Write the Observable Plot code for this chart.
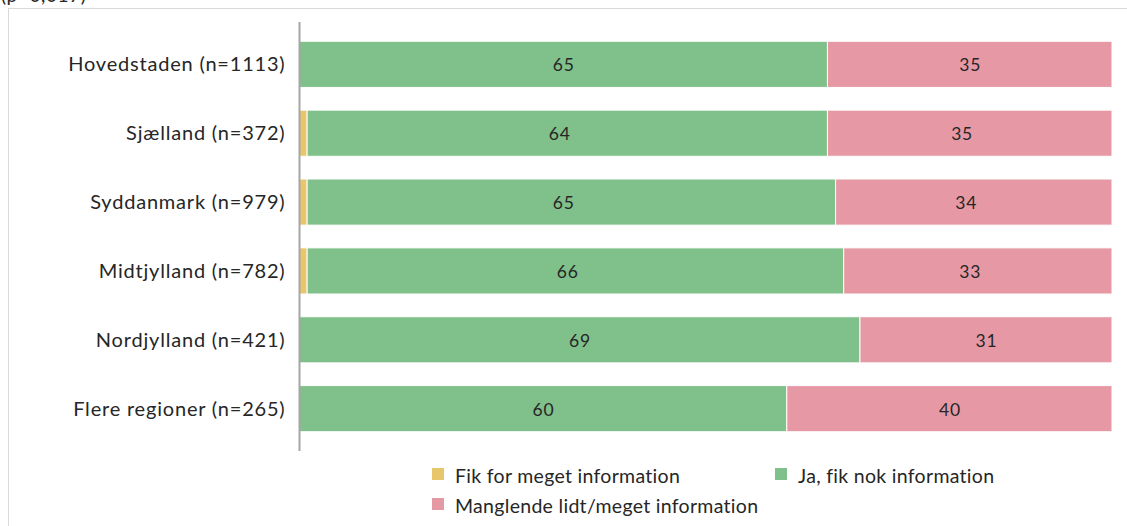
<!DOCTYPE html>
<html>
<head>
<meta charset="utf-8">
<script src="https://cdn.jsdelivr.net/npm/d3@7"></script>
<script src="https://cdn.jsdelivr.net/npm/@observablehq/plot@0.6"></script>
<style>
  html, body { margin: 0; padding: 0; background: #fff; overflow: hidden; }
  #wrap { position: relative; width: 1127px; height: 526px; font-family: Lato, "Open Sans", sans-serif; color: #262626; }
  #title { position: absolute; left: 1px; top: -15px; font-size: 19px; line-height: 19px; white-space: nowrap; letter-spacing: 0.6px; }
  #frame { position: absolute; left: 8px; top: 8px; width: 1130px; height: 530px; border: 1px solid #d9d9d9; box-sizing: border-box; }
  #chart { position: absolute; left: 0; top: 0; }
  #legend { position: absolute; left: 432px; top: 465px; font-size: 19.5px; letter-spacing: 0.3px; }
  .item { position: absolute; white-space: nowrap; line-height: 22px; }
  .sw { position: absolute; width: 12px; height: 12px; left: 0; top: 3px; }
  .lab { position: absolute; left: 23px; top: 0; }
</style>
</head>
<body>
<div id="wrap">
  <div id="title">(p=0,017)</div>
  <div id="frame"></div>
  <div id="chart"></div>
  <div id="legend"></div>
</div>
<script>
const regions = ["Hovedstaden (n=1113)", "Sjælland (n=372)", "Syddanmark (n=979)", "Midtjylland (n=782)", "Nordjylland (n=421)", "Flere regioner (n=265)"];
const categories = ["Fik for meget information", "Ja, fik nok information", "Manglende lidt/meget information"];
const fikForMeget = [0, 1, 1, 1, 0, 0];
const jaNok = [65, 64, 65, 66, 69, 60];
const manglende = [35, 35, 34, 33, 31, 40];
const colors = ["#e8c66c", "#80c08a", "#e699a5"];

const series = [fikForMeget, jaNok, manglende];
const data = [];
regions.forEach((r, i) => {
  categories.forEach((c, j) => {
    data.push({region: r, cat: c, value: series[j][i], showLabel: j > 0});
  });
});

const plot = Plot.plot({
  width: 1127,
  height: 456,
  marginLeft: 299,
  marginRight: 15,
  marginTop: 22,
  marginBottom: 5,
  style: {fontFamily: "Lato, 'Open Sans', sans-serif", background: "transparent", color: "#262626"},
  x: {domain: [0, 100], axis: null},
  y: {domain: regions, paddingInner: 0.33, paddingOuter: 0.28, round: false, label: null},
  color: {domain: categories, range: colors},
  marks: [
    Plot.barX(data, Plot.stackX({x: "value", y: "region", z: "cat", fill: "cat", stroke: "white", strokeWidth: 1, order: null})),
    Plot.text(data.filter(d => d.showLabel), Plot.stackX({x: "value", y: "region", z: "cat", text: d => String(d.value), fill: "#262626", fontSize: 17.5, order: null, dy: 1})),
    Plot.ruleX([0], {stroke: "#a6a6a6", strokeWidth: 2}),
    Plot.axisY({tickSize: 0, tickPadding: 14, fontSize: 20, label: null, fill: "#262626"})
  ]
});
plot.querySelectorAll("text").forEach(t => t.setAttribute("letter-spacing", "0.8"));
document.getElementById("chart").appendChild(plot);

const legendPos = [[0, 0], [343, 0], [0, 30]];
const legend = document.getElementById("legend");
categories.forEach((c, j) => {
  const it = document.createElement("div");
  it.className = "item";
  it.style.left = legendPos[j][0] + "px";
  it.style.top = legendPos[j][1] + "px";
  it.innerHTML = `<span class="sw" style="background:${colors[j]}"></span><span class="lab">${c}</span>`;
  legend.appendChild(it);
});
</script>
</body>
</html>
